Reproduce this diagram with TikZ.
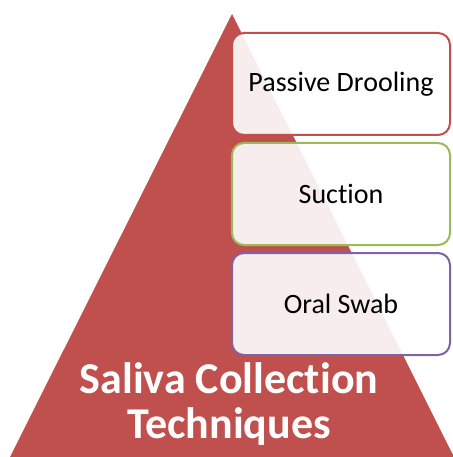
\documentclass[tikz,border=0pt]{standalone}
\usepackage{fontspec}
\setmainfont{Carlito}[Ligatures=NoCommon]
\usepackage{xcolor}
\usetikzlibrary{positioning}
\definecolor{pyrred}{HTML}{C0504D}
\definecolor{pyrgreen}{HTML}{9BBB59}
\definecolor{pyrpurple}{HTML}{8064A2}

\begin{document}
\begin{tikzpicture}[
  x=1pt, y=-1pt,
  level/.style ={draw, line width=2pt, rounded corners=12pt, fill=white, fill opacity=0.9, text opacity=1,
                 minimum width=218pt, minimum height=102pt, outer sep=0pt, inner sep=0pt,
                 font=\fontsize{28}{32}\selectfont},
  titletext/.style={text=white, align=center, font=\bfseries\fontsize{44}{45}\selectfont},
  node distance=8pt
]
\useasboundingbox (0,0) rectangle (452,457);
\fill[pyrred] (232,14) -- (454,457) -- (10,457) -- cycle;
\node[level, draw=pyrred, anchor=north west] (drool) at (232,33) {Passive Drooling};
\node[level, draw=pyrgreen, below=of drool]  (suction) {Suction};
\node[level, draw=pyrpurple, below=of suction] (swab) {Oral Swab};
\node[titletext] (title) at (229,404.5) {Saliva Collection\\Techniques};
\end{tikzpicture}
\end{document}
